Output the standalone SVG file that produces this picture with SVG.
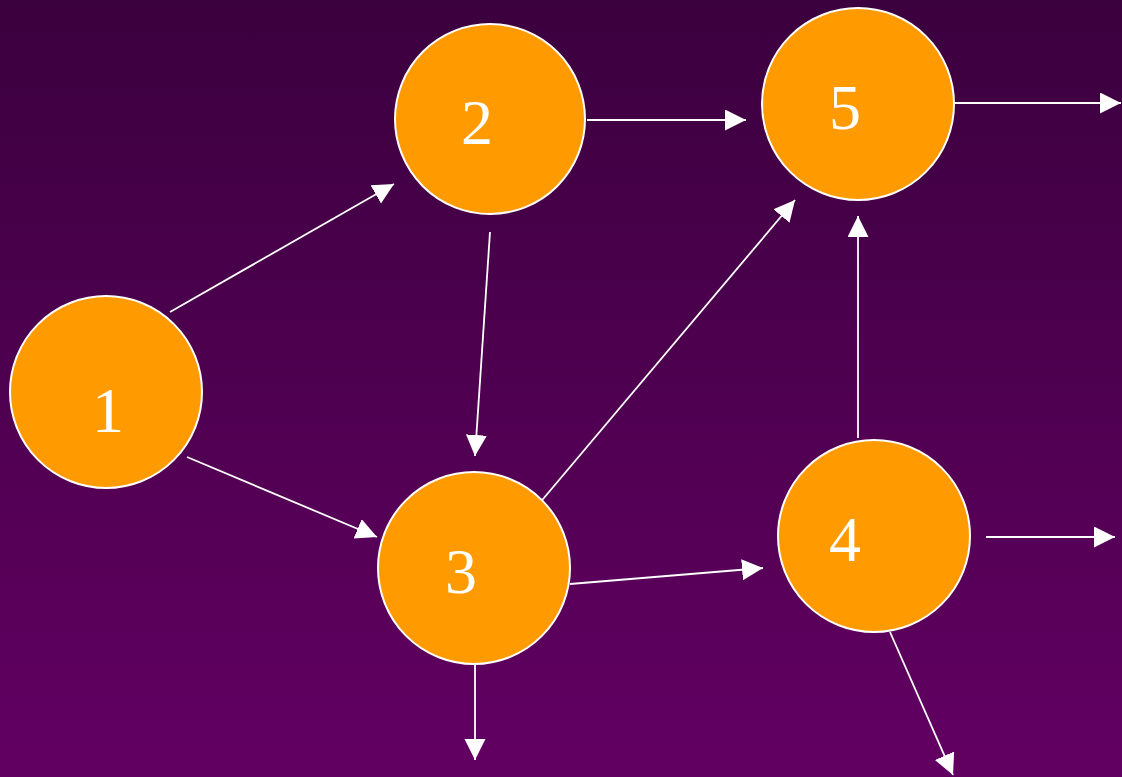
<svg xmlns="http://www.w3.org/2000/svg" width="1122" height="777" viewBox="0 0 1122 777">
<defs>
<linearGradient id="bg" x1="0" y1="0" x2="0" y2="1">
<stop offset="0" stop-color="#3b003e"/>
<stop offset="1" stop-color="#620062"/>
</linearGradient>
<marker id="ah" markerUnits="userSpaceOnUse" markerWidth="22" markerHeight="22" refX="21" refY="10.5" orient="auto">
<path d="M0,0 L21,10.5 L0,21 Z" fill="#fff"/>
</marker>
<style>
.n{fill:#ff9a00;stroke:#fff;stroke-width:2}
.t{fill:#fff;font-family:"Liberation Serif","Times New Roman",serif;font-size:64px;text-anchor:middle}
.e{stroke:#fff;stroke-width:1.8;fill:none;marker-end:url(#ah)}
</style>
</defs>
<rect width="1122" height="777" fill="url(#bg)"/>
<g id="edges">
<line class="e" x1="170" y1="312" x2="394" y2="184"/>
<line class="e" x1="587" y1="120" x2="746" y2="120"/>
<line class="e" x1="955" y1="103" x2="1121" y2="103"/>
<line class="e" x1="490" y1="232" x2="475" y2="456"/>
<line class="e" x1="187" y1="457" x2="377" y2="537"/>
<line class="e" x1="538" y1="505" x2="795" y2="200"/>
<line class="e" x1="858" y1="438" x2="858" y2="216"/>
<line class="e" x1="570" y1="584" x2="763" y2="568"/>
<line class="e" x1="986" y1="537" x2="1115" y2="537"/>
<line class="e" x1="475" y1="665" x2="475" y2="760"/>
<line class="e" x1="890" y1="632" x2="953" y2="775"/>
</g>
<g id="n1"><circle class="n" cx="106" cy="392" r="96"/><text class="t" x="108" y="432">1</text></g>
<g id="n2"><circle class="n" cx="490" cy="119" r="95"/><text class="t" x="477" y="144">2</text></g>
<g id="n5"><circle class="n" cx="858" cy="104" r="96"/><text class="t" x="845" y="129">5</text></g>
<g id="n3"><circle class="n" cx="474" cy="568" r="96"/><text class="t" x="461" y="593">3</text></g>
<g id="n4"><circle class="n" cx="874" cy="536" r="96"/><text class="t" x="845" y="561">4</text></g>
</svg>
